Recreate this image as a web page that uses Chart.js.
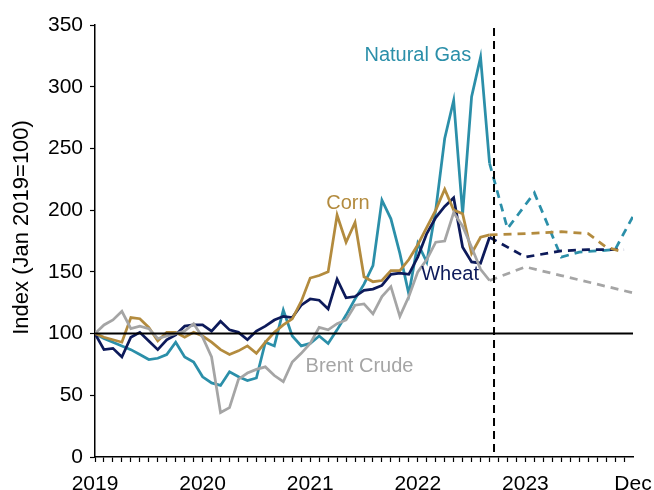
<!DOCTYPE html>
<html>
<head>
<meta charset="utf-8">
<script src="https://cdn.jsdelivr.net/npm/chart.js@4.4.0/dist/chart.umd.min.js"></script>
<style>
  html, body { margin: 0; padding: 0; background: #fff; }
</style>
</head>
<body>
<canvas id="chart" width="654" height="490"></canvas>
<script>
// x is months since Jan 2019 (0 = Jan 2019, 59 = Dec 2023)
const xLabels = { 0: '2019', 12: '2020', 24: '2021', 36: '2022', 48: '2023', 60: 'Dec' };
const yMin = 0, yMax = 350, yStep = 50;
const yTitle = 'Index (Jan 2019=100)';

// monthly history, Jan 2019 .. Sep 2022
const wheat  = [100, 87, 88, 81, 97, 101, 94, 87, 95, 99, 106, 107,
                107, 102, 110, 103, 101, 95, 102, 106, 111, 114, 113, 123,
                128, 127, 120, 144, 129, 130, 135, 136, 139, 148, 149, 148,
                162, 181, 194, 203, 210, 170, 158, 157, 178];
const corn   = [100, 97, 95, 93, 113, 112, 105, 94, 101, 101, 97, 101,
                98, 93, 87, 83, 86, 90, 84, 93, 101, 107, 112, 126,
                145, 147, 150, 196, 174, 190, 146, 142, 143, 151, 151, 160,
                172, 186, 200, 217, 200, 197, 165, 178, 180];
const natGas = [100, 96, 93, 90, 87, 83, 79, 80, 83, 93, 81, 77,
                65, 60, 58, 69, 65, 62, 64, 93, 90, 119, 98, 90,
                92, 98, 92, 103, 115, 128, 140, 155, 208, 193, 165, 132,
                173, 158, 200, 258, 289, 197, 292, 324, 238];
const brent  = [100, 107, 111, 118, 104, 106, 104, 96, 98, 100, 102, 108,
                97, 81, 36, 40, 63, 68, 71, 73, 66, 61, 77, 84,
                92, 105, 103, 108, 111, 123, 124, 116, 130, 138, 114, 130,
                150, 160, 174, 175, 198, 187, 170, 152, 143];

// forecasts (dashed)
const wheatFcX  = [44, 48, 52, 55, 59];
const wheatFc   = [178, 162, 167, 168, 168];
const cornFcX   = [44, 48, 52, 55, 57, 59];
const cornFc    = [180, 181, 182.5, 181, 170, 166];
const natGasFcX = [44, 46, 49, 52, 54, 58, 60];
const natGasFc  = [238, 185, 214, 162, 166, 168, 195];
const brentFcX  = [44, 48, 52, 56, 60];
const brentFc   = [143, 154, 147, 140, 133];

const forecastStart = 44.5;
const baseLevel = 100;

const colors = {
    wheat: '#0d1a5a',
    corn: '#b38b3e',
    natGas: '#2b8fa9',
    brent: '#a5a5a5'
};

const FONT = '"Liberation Sans", Arial, sans-serif';

const hist = arr => arr.map((v, i) => ({ x: i, y: v }));
const fc = (xs, ys) => xs.map((x, i) => ({ x: x, y: ys[i] }));

function solid(data, color) {
    return { data: data, borderColor: color, borderWidth: 2.75, pointRadius: 0, tension: 0, fill: false };
}
function dashed(data, color) {
    return { data: data, borderColor: color, borderWidth: 2.75, borderDash: [8, 6], pointRadius: 0, tension: 0, fill: false };
}

// reference line at 100, forecast divider, series labels, axis title
const overlay = {
    id: 'overlay',
    afterDatasetsDraw(chart) {
        const { ctx, chartArea, scales: { x, y } } = chart;
        ctx.save();
        ctx.strokeStyle = '#000';
        ctx.lineWidth = 2;
        ctx.beginPath();
        ctx.moveTo(chartArea.left, y.getPixelForValue(baseLevel));
        ctx.lineTo(chartArea.right, y.getPixelForValue(baseLevel));
        ctx.stroke();

        const fx = x.getPixelForValue(forecastStart);
        ctx.setLineDash([8, 5]);
        ctx.beginPath();
        ctx.moveTo(fx, chartArea.top + 3);
        ctx.lineTo(fx, chartArea.bottom);
        ctx.stroke();
        ctx.restore();
    },
    afterDraw(chart) {
        const { ctx, scales: { x, y } } = chart;
        const labels = [
            { text: 'Natural Gas', color: colors.natGas, mx: 36.0, v: 325 },
            { text: 'Corn', color: colors.corn, mx: 28.2, v: 205 },
            { text: 'Wheat', color: colors.wheat, mx: 39.6, v: 148 },
            { text: 'Brent Crude', color: colors.brent, mx: 29.5, v: 73 }
        ];
        ctx.save();
        ctx.font = '20px ' + FONT;
        ctx.textAlign = 'center';
        ctx.textBaseline = 'middle';
        labels.forEach(l => {
            ctx.fillStyle = l.color;
            ctx.fillText(l.text, x.getPixelForValue(l.mx), y.getPixelForValue(l.v));
        });

        // rotated y-axis title
        ctx.translate(22, y.getPixelForValue(186));
        ctx.rotate(-Math.PI / 2);
        ctx.fillStyle = '#000';
        ctx.font = '22px ' + FONT;
        ctx.fillText(yTitle, 0, 0);
        ctx.restore();
    }
};

new Chart(document.getElementById('chart'), {
    type: 'line',
    data: {
        datasets: [
            solid(hist(brent), colors.brent),
            dashed(fc(brentFcX, brentFc), colors.brent),
            solid(hist(corn), colors.corn),
            dashed(fc(cornFcX, cornFc), colors.corn),
            solid(hist(wheat), colors.wheat),
            dashed(fc(wheatFcX, wheatFc), colors.wheat),
            solid(hist(natGas), colors.natGas),
            dashed(fc(natGasFcX, natGasFc), colors.natGas)
        ]
    },
    options: {
        responsive: false,
        animation: false,
        layout: { padding: { top: 25, right: 21, bottom: 0, left: 0 } },
        plugins: { legend: { display: false }, tooltip: { enabled: false } },
        scales: {
            x: {
                type: 'linear',
                min: 0,
                max: 60,
                afterBuildTicks: s => {
                    const t = [];
                    for (let m = 0; m <= 60; m++) t.push({ value: m });
                    s.ticks = t;
                },
                afterFit: s => {
                    s.height = 33;
                    s.paddingLeft = 0;
                    s.paddingRight = 0;
                },
                ticks: {
                    autoSkip: false,
                    maxRotation: 0,
                    padding: 10,
                    color: '#000',
                    font: { family: FONT, size: 21 },
                    callback: v => xLabels[v] !== undefined ? xLabels[v] : ''
                },
                grid: {
                    drawOnChartArea: false,
                    drawTicks: true,
                    tickLength: 5,
                    tickWidth: 1.2,
                    tickColor: c => (c.tick && c.tick.value === 60) ? 'rgba(0,0,0,0)' : '#000'
                },
                border: { display: true, color: '#000', width: 1.5 }
            },
            y: {
                min: yMin,
                max: yMax,
                afterFit: s => { s.width = 95; },
                ticks: {
                    stepSize: yStep,
                    padding: 7,
                    color: '#000',
                    font: { family: FONT, size: 21 }
                },
                grid: {
                    drawOnChartArea: false,
                    drawTicks: true,
                    tickLength: 5,
                    tickWidth: 1.2,
                    tickColor: '#000'
                },
                border: { display: true, color: '#000', width: 1.5 }
            }
        }
    },
    plugins: [overlay]
});
</script>
</body>
</html>
